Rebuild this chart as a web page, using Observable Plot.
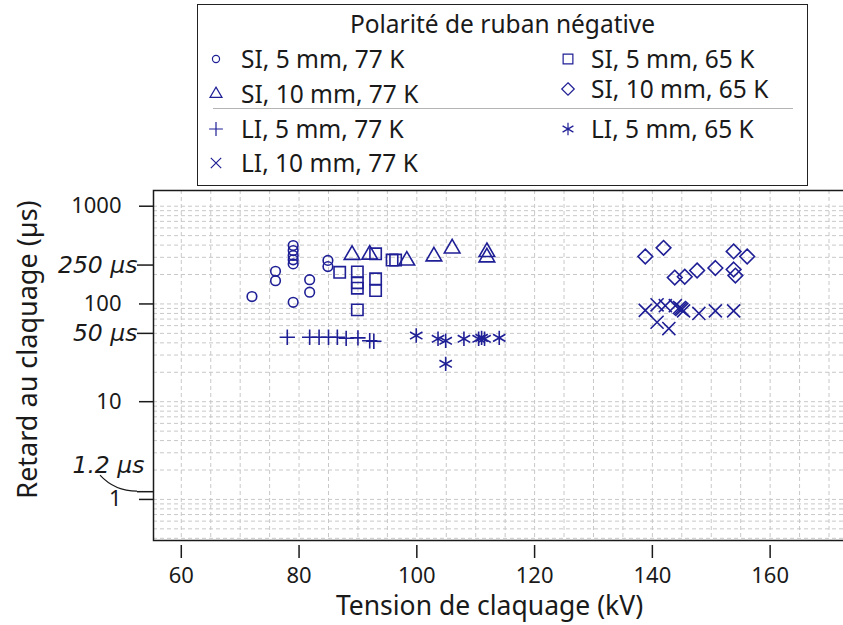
<!DOCTYPE html>
<html><head><meta charset="utf-8">
<script src="https://cdn.jsdelivr.net/npm/d3@7"></script>
<script src="https://cdn.jsdelivr.net/npm/@observablehq/plot@0.6"></script>
<style>
body{margin:0;background:#fff;font-family:"Noto Sans",sans-serif;color:#1a1a1a;}
#wrap{position:relative;width:843px;height:625px;overflow:hidden;background:#fff;}
#chart{position:absolute;left:0;top:0;}
#legend{position:absolute;left:197px;top:4px;width:609px;height:180px;border:1.5px solid #222;background:#fff;}
#legend .title{position:absolute;left:0;right:0;top:3px;text-align:center;font-size:24.5px;line-height:32px;}
#legend .item{position:absolute;font-size:24.5px;line-height:30px;white-space:nowrap;}
#legend svg.sym{position:absolute;overflow:visible;}
#legend .sep{position:absolute;left:15px;width:580px;top:103px;height:0;border-top:1.5px solid #b5b5b5;}
</style>
</head><body>
<div id="wrap"><div id="chart"></div><div id="legend"></div></div>
<script>
// ---- data ----
const legendTitle = "Polarité de ruban négative";
const seriesLabels = ["SI, 5 mm, 77 K","SI, 10 mm, 77 K","LI, 5 mm, 77 K","LI, 10 mm, 77 K","SI, 5 mm, 65 K","SI, 10 mm, 65 K","LI, 5 mm, 65 K"];

// SI, 5 mm, 77 K (circles)
const si5_77_kV = [72, 76, 76, 79, 79, 79, 79, 79, 79, 81.8, 81.8, 84.9, 84.9];
const si5_77_us = [119, 216, 173, 396, 352, 313, 283, 257, 104, 177, 132, 279, 241];
// SI, 10 mm, 77 K (triangles)
const si10_77_kV = [89, 92, 98.3, 102.9, 106, 111.9, 111.9];
const si10_77_us = [318, 320, 278, 307, 370, 340, 300];
// LI, 5 mm, 77 K (plus)
const li5_77_kV = [78, 81.8, 83.4, 85, 86.5, 88, 90, 92, 92.7];
const li5_77_us = [45.6, 45.6, 45.6, 45.6, 45.6, 44.5, 45, 42, 41.5];
// LI, 10 mm, 77 K (times)
const li10_77_kV = [138.8, 140.8, 140.8, 142.8, 142.2, 143.9, 144.6, 145, 145.3, 144.8, 147.9, 150.7, 153.8];
const li10_77_us = [86, 98, 65, 56, 96, 96, 92, 88, 85, 90, 80, 85, 85];
// SI, 5 mm, 65 K (squares)
const si5_65_kV = [86.9, 89.9, 89.9, 89.9, 89.9, 93, 93, 93, 95.8, 96.4];
const si5_65_us = [211, 213, 165, 145, 87, 326, 181, 137, 281, 281];
// SI, 10 mm, 65 K (diamonds)
const si10_65_kV = [138.8, 141.9, 143.8, 145.5, 147.6, 150.7, 153.8, 156.1, 153.8, 154.1];
const si10_65_us = [306, 375, 186, 190, 220, 233, 345, 306, 225, 195];
// LI, 5 mm, 65 K (asterisks)
const li5_65_kV = [99.9, 103.6, 104.9, 104.9, 108, 110.5, 111, 111.5, 114];
const li5_65_us = [47.5, 44, 42, 24.4, 44, 44, 45, 44, 45];

// axes
const xTicks = [60, 80, 100, 120, 140, 160];
const yMainTicks = [1, 10, 100, 1000];
const yNoteTicks = [50, 250];
const yNoteLabels = ["50 µs", "250 µs"];
const noteTick = 1.2;
const noteLabel = "1.2 µs";
const xTitle = "Tension de claquage (kV)";
const yTitle = "Retard au claquage (µs)";

// ---- styling ----
const NAVY = "#1f1f96";
const INK = "#1a1a1a";
const X_DOMAIN = [55.28, 172.8];
const Y_DOMAIN = [0.38, 1448];
const series = [
  {label: seriesLabels[0], kV: si5_77_kV, us: si5_77_us, symbol: "circle", r: 4.8, leg: 40},
  {label: seriesLabels[1], kV: si10_77_kV, us: si10_77_us, symbol: "triangle", r: 5.8, leg: 62},
  {label: seriesLabels[2], kV: li5_77_kV, us: li5_77_us, symbol: "plus", r: 5.0, leg: 64},
  {label: seriesLabels[3], kV: li10_77_kV, us: li10_77_us, symbol: "times", r: 6.0, leg: 72},
  {label: seriesLabels[4], kV: si5_65_kV, us: si5_65_us, symbol: "square", r: 6.4, leg: 95},
  {label: seriesLabels[5], kV: si10_65_kV, us: si10_65_us, symbol: "diamond2", r: 6.6, leg: 100},
  {label: seriesLabels[6], kV: li5_65_kV, us: li5_65_us, symbol: "asterisk", r: 6.8, leg: 110}
];

const gridXTicks = d3.range(60, 175, 5).filter(v => v > X_DOMAIN[0] && v < X_DOMAIN[1]);
const gridYTicks = [];
for (let k = -1; k <= 3; k++) for (let m = 1; m <= 9; m++) gridYTicks.push(m * Math.pow(10, k));
const gridYIn = gridYTicks.filter(v => v > Y_DOMAIN[0] && v < Y_DOMAIN[1]);

const leader = (index, scales, values, dims) => {
  const x0 = dims.marginLeft, y1 = scales.y(noteTick);
  const p = d3.create("svg:path")
    .attr("d", `M${x0 - 53},${y1 - 16} C${x0 - 42},${y1 - 4} ${x0 - 28},${y1} ${x0 - 16},${y1}`)
    .attr("fill", "none").attr("stroke", INK).attr("stroke-width", 1.2);
  return p.node();
};

const dotMarks = series.map(s => Plot.dot(s.kV.map((v, i) => ({kV: v, us: s.us[i]})), {
  x: "kV", y: "us", symbol: s.symbol, r: s.r, stroke: NAVY, fill: "none", strokeWidth: 1.6
}));

const ITALIC_FONT = "'DejaVu Sans', sans-serif";

const chart = Plot.plot({
  width: 843, height: 625,
  marginTop: 190, marginBottom: 85, marginLeft: 153, marginRight: -2,
  style: {fontFamily: "'Noto Sans', sans-serif", color: INK, background: "transparent", overflow: "visible"},
  x: {domain: X_DOMAIN},
  y: {type: "log", domain: Y_DOMAIN},
  marks: [
    Plot.gridX({ticks: gridXTicks, stroke: "#c8c8c8", strokeOpacity: 1, strokeDasharray: "4,3"}),
    Plot.gridY({ticks: gridYIn, stroke: "#c8c8c8", strokeOpacity: 1, strokeDasharray: "4,3"}),
    Plot.frame({stroke: INK, strokeWidth: 1.5}),
    ...dotMarks,
    Plot.axisX({ticks: xTicks, tickSize: 13, tickPadding: 9, dy: 5, fontSize: 22, label: null, tickFormat: d => String(d), strokeWidth: 1.5}),
    Plot.axisY({ticks: yMainTicks, tickSize: 14, tickPadding: 18, fontSize: 22, label: null, tickFormat: d => String(d), strokeWidth: 1.5}),
    Plot.axisY({ticks: [noteTick, ...yNoteTicks], tickSize: 16, tickPadding: 2, label: null, tickFormat: () => "", strokeWidth: 1.5}),
    Plot.text(yNoteLabels, {frameAnchor: "left", y: (d, i) => yNoteTicks[i], dx: -16, textAnchor: "end", lineAnchor: "middle", fontSize: 23.5, fontStyle: "italic", fontFamily: ITALIC_FONT, fill: INK}),
    Plot.text([noteLabel], {frameAnchor: "left", y: () => noteTick, dy: -26, dx: -9, textAnchor: "end", lineAnchor: "middle", fontSize: 23.5, fontStyle: "italic", fontFamily: ITALIC_FONT, fill: INK}),
    leader,
    Plot.text([xTitle], {frameAnchor: "bottom", dy: 66, dx: -10, textAnchor: "middle", lineAnchor: "middle", fontSize: 26.5, fill: INK}),
    Plot.text([yTitle], {frameAnchor: "left", dx: -125, dy: -16, rotate: -90, textAnchor: "middle", lineAnchor: "middle", fontSize: 27, fill: INK})
  ]
});
document.getElementById("chart").appendChild(chart);

// ---- legend ----
const legend = d3.select("#legend");
legend.append("div").attr("class", "title").text(legendTitle);
legend.append("div").attr("class", "sep");
const symMap = {circle: d3.symbolCircle, triangle: d3.symbolTriangle, plus: d3.symbolPlus, times: d3.symbolTimes, square: d3.symbolSquare, diamond2: d3.symbolDiamond2, asterisk: d3.symbolAsterisk};
const slots = [[0, 0], [0, 1], [0, 2], [0, 3], [1, 0], [1, 1], [1, 2]];
const colSym = [18, 370], colText = [43, 393];
const rowY = [[54, 89, 124, 158], [54, 84, 124]];
series.forEach((s, i) => {
  const [c, r] = slots[i];
  const cy = rowY[c][r];
  const svg = legend.append("svg").attr("class", "sym").attr("width", 20).attr("height", 20)
    .style("left", (colSym[c] - 10) + "px").style("top", (cy - 10) + "px");
  svg.append("path").attr("transform", "translate(10,10)")
    .attr("d", d3.symbol(symMap[s.symbol], s.leg)())
    .attr("fill", "none").attr("stroke", NAVY).attr("stroke-width", 1.2);
  legend.append("div").attr("class", "item").style("left", colText[c] + "px").style("top", (cy - 15) + "px").text(s.label);
});
</script>
</body></html>
